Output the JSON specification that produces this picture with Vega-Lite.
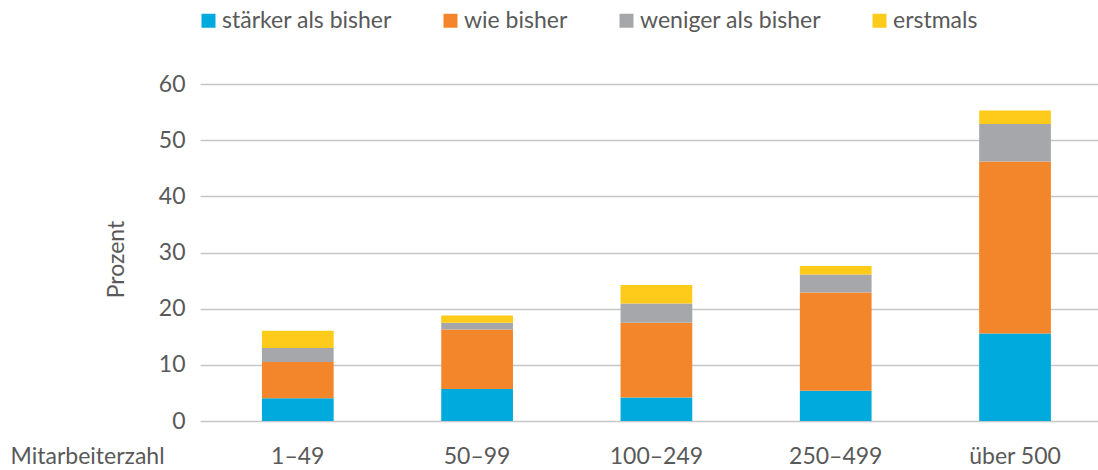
{
  "$schema": "https://vega.github.io/schema/vega-lite/v6.json",
  "autosize": "none",
  "padding": {"left": 200, "top": 84, "right": 0, "bottom": 49},
  "width": 898,
  "height": 337,
  "background": "white",
  "config": {
    "view": {"stroke": null},
    "font": "Lato",
    "axis": {"labelFont": "Lato", "titleFont": "Lato", "labelColor": "#595959", "titleColor": "#595959"}
  },
  "data": {
    "values": [
      {"gruppe": "1–49", "art": "stärker als bisher", "o": 1, "wert": 4.05},
      {"gruppe": "1–49", "art": "wie bisher", "o": 2, "wert": 6.45},
      {"gruppe": "1–49", "art": "weniger als bisher", "o": 3, "wert": 2.5},
      {"gruppe": "1–49", "art": "erstmals", "o": 4, "wert": 3.05},
      {"gruppe": "50–99", "art": "stärker als bisher", "o": 1, "wert": 5.7},
      {"gruppe": "50–99", "art": "wie bisher", "o": 2, "wert": 10.6},
      {"gruppe": "50–99", "art": "weniger als bisher", "o": 3, "wert": 1.2},
      {"gruppe": "50–99", "art": "erstmals", "o": 4, "wert": 1.3},
      {"gruppe": "100–249", "art": "stärker als bisher", "o": 1, "wert": 4.2},
      {"gruppe": "100–249", "art": "wie bisher", "o": 2, "wert": 13.3},
      {"gruppe": "100–249", "art": "weniger als bisher", "o": 3, "wert": 3.4},
      {"gruppe": "100–249", "art": "erstmals", "o": 4, "wert": 3.3},
      {"gruppe": "250–499", "art": "stärker als bisher", "o": 1, "wert": 5.4},
      {"gruppe": "250–499", "art": "wie bisher", "o": 2, "wert": 17.5},
      {"gruppe": "250–499", "art": "weniger als bisher", "o": 3, "wert": 3.2},
      {"gruppe": "250–499", "art": "erstmals", "o": 4, "wert": 1.5},
      {"gruppe": "über 500", "art": "stärker als bisher", "o": 1, "wert": 15.6},
      {"gruppe": "über 500", "art": "wie bisher", "o": 2, "wert": 30.6},
      {"gruppe": "über 500", "art": "weniger als bisher", "o": 3, "wert": 6.7},
      {"gruppe": "über 500", "art": "erstmals", "o": 4, "wert": 2.4}
    ]
  },
  "mark": {"type": "bar"},
  "encoding": {
    "x": {
      "field": "gruppe",
      "type": "nominal",
      "sort": ["1–49", "50–99", "100–249", "250–499", "über 500"],
      "scale": {"paddingInner": 0.6, "paddingOuter": 0.304, "align": 0.568},
      "axis": {
        "title": "Mitarbeiterzahl",
        "titleX": -190,
        "titleY": 42,
        "titleAlign": "left",
        "titleAnchor": "start",
        "titleBaseline": "alphabetic",
        "titleFontSize": 23,
        "titleFontWeight": "normal",
        "labelFontSize": 23,
        "labelAngle": 0,
        "labelBaseline": "alphabetic",
        "labelPadding": 42,
        "ticks": false,
        "domain": false
      }
    },
    "y": {
      "field": "wert",
      "type": "quantitative",
      "stack": "zero",
      "scale": {"domain": [0, 60]},
      "axis": {
        "title": "Prozent",
        "titleX": -84,
        "titleY": 175,
        "titleAlign": "center",
        "titleBaseline": "middle",
        "titleAngle": 270,
        "titleFontSize": 23,
        "titleFontWeight": "normal",
        "labelFontSize": 23,
        "labelPadding": 15,
        "values": [0, 10, 20, 30, 40, 50, 60],
        "ticks": false,
        "domain": false,
        "grid": true,
        "gridColor": "#c6c6c6",
        "gridWidth": 1.5
      }
    },
    "color": {
      "field": "art",
      "type": "nominal",
      "sort": ["stärker als bisher", "wie bisher", "weniger als bisher", "erstmals"],
      "scale": {"range": ["#00aadc", "#f3862b", "#a6a7aa", "#fecb1a"]},
      "legend": {
        "title": null,
        "orient": "none",
        "direction": "horizontal",
        "legendX": -3,
        "legendY": -75,
        "symbolType": "square",
        "symbolSize": 196,
        "symbolStrokeWidth": 0,
        "symbolOpacity": 1,
        "labelFontSize": 23,
        "labelFont": "Lato",
        "labelColor": "#595959",
        "labelOffset": 2,
        "labelLimit": 400,
        "columnPadding": 47
      }
    },
    "order": {"field": "o", "type": "quantitative"}
  }
}
